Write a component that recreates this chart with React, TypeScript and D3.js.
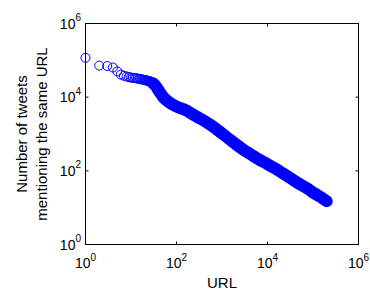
import React from 'react';
import * as d3 from 'd3';

// counts for the first ranks (rank = index + 1), each drawn as its own ring
const headCounts = [
  117000, 72000, 70000, 64000, 50000, 41000, 38000, 36500, 35000, 34000,
  33500, 33000, 32500, 32000, 31500, 31000, 30500, 30000, 29500, 29000,
  28700, 28400, 28000, 27700, 27400, 27000, 26500, 26000, 25000, 24000,
];

// the dense tail where the markers merge into a solid band
const tailRanks = [
  30, 34, 42, 51, 65, 98, 155, 230, 365, 545, 820, 1290, 1930, 2900, 4350,
  6500, 9800, 14600, 21900, 32800, 49000, 73000, 110000, 164000, 200000,
];
const tailCounts = [
  24000, 21000, 14200, 10000, 7600, 5600, 4500, 3400, 2450, 1800, 1250, 810,
  550, 380, 277, 203, 154, 116, 85, 62, 45, 34, 24, 17.8, 15,
];

const tickExponents = [0, 2, 4, 6];
const xLabel = 'URL';
const yLabelLines = ['Number of tweets', 'mentioning the same URL'];

const App = () => {
  const width = 370;
  const height = 291;
  const margin = { top: 23.5, right: 11.5, bottom: 46.5, left: 85.5 };
  const font = 'Liberation Sans, Arial, Helvetica, sans-serif';
  const blue = '#0000ff';

  const xScale = d3.scaleLog().domain([1, 1e6]).range([margin.left, width - margin.right]);
  const yScale = d3.scaleLog().domain([1, 1e6]).range([height - margin.bottom, margin.top]);

  const [x0, x1] = xScale.range();
  const [y0, y1] = yScale.range();
  const tickLen = 3;

  const tail = tailRanks.map((r, i) => [r, tailCounts[i]] as [number, number]);
  const bandPath = d3
    .line<[number, number]>()
    .x((d) => xScale(d[0]))
    .y((d) => yScale(d[1]))
    .curve(d3.curveMonotoneX)(tail);

  return (
    <svg
      width={width}
      height={height}
      style={{ position: 'absolute', left: 0, top: 0, background: '#fff' }}
      fontFamily={font}
    >
      {/* data: solid band for the dense tail */}
      <path d={bandPath || ''} fill="none" stroke={blue} strokeWidth={12} strokeLinecap="round" strokeLinejoin="round" />
      {/* data: open circles for the first ranks */}
      {headCounts.map((c, i) => (
        <circle key={`h-${i}`} cx={xScale(i + 1)} cy={yScale(c)} r={4.5} fill="none" stroke={blue} strokeWidth={1} />
      ))}

      {/* axes box */}
      <rect x={x0} y={y1} width={x1 - x0} height={y0 - y1} fill="none" stroke="#000" strokeWidth={1} />

      {/* ticks on all four sides */}
      {tickExponents.map((e) => {
        const xv = xScale(Math.pow(10, e));
        const yv = yScale(Math.pow(10, e));
        return (
          <g key={`t-${e}`} stroke="#000" strokeWidth={1}>
            <line x1={xv} x2={xv} y1={y0} y2={y0 - tickLen} />
            <line x1={xv} x2={xv} y1={y1} y2={y1 + tickLen} />
            <line x1={x0} x2={x0 + tickLen} y1={yv} y2={yv} />
            <line x1={x1} x2={x1 - tickLen} y1={yv} y2={yv} />
          </g>
        );
      })}

      {/* x tick labels */}
      {tickExponents.map((e) => (
        <text key={`xl-${e}`} x={xScale(Math.pow(10, e))} y={268} textAnchor="middle" fontSize={14} fill="#000">
          10<tspan dy={-7.5} fontSize={10}>{e}</tspan>
        </text>
      ))}

      {/* y tick labels */}
      {tickExponents.map((e) => (
        <text key={`yl-${e}`} x={81} y={yScale(Math.pow(10, e)) + 5} textAnchor="end" fontSize={14} fill="#000">
          10<tspan dy={-7.5} fontSize={10}>{e}</tspan>
        </text>
      ))}

      {/* axis labels */}
      <text x={(x0 + x1) / 2} y={288} textAnchor="middle" fontSize={15} fill="#000">
        {xLabel}
      </text>
      <g transform={`translate(0, ${(y0 + y1) / 2}) rotate(-90)`}>
        {yLabelLines.map((line, i) => (
          <text key={`yl-line-${i}`} x={0} y={27 + i * 20} textAnchor="middle" fontSize={15} fill="#000">
            {line}
          </text>
        ))}
      </g>
    </svg>
  );
};

export default App;
